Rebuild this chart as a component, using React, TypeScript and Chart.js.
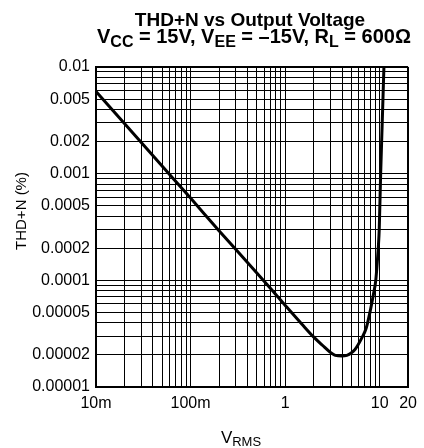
import React, { useEffect, useRef } from "react";
import { Chart, registerables } from "chart.js";

Chart.register(...registerables);

// THD+N (%) measured against output voltage (VRMS)
const vrms = [
  0.01, 0.02, 0.05, 0.1, 0.2, 0.5, 1, 1.5, 2, 2.5, 3, 3.4, 4, 4.5, 5, 5.5,
  6.5, 7.2, 8, 8.6, 9.1, 9.5, 9.7, 9.9, 10.25, 10.65, 11.1,
];
const thdn = [
  0.0059, 0.00295, 0.00118, 0.00059, 0.000292, 0.000118, 0.0000585, 0.000039,
  0.0000295, 0.0000245, 0.0000212, 0.0000198, 0.0000195, 0.0000198, 0.0000208,
  0.0000225, 0.000029, 0.0000355, 0.000053, 0.000074, 0.0001, 0.00016,
  0.00021, 0.0003, 0.001, 0.003, 0.01,
];

// Labelled ticks
const xLabelValues = [0.01, 0.1, 1, 10, 20];
const xLabelTexts = ["10m", "100m", "1", "10", "20"];
const yLabelValues = [
  0.01, 0.005, 0.002, 0.001, 0.0005, 0.0002, 0.0001, 0.00005, 0.00002, 0.00001,
];
const yLabelTexts = [
  "0.01", "0.005", "0.002", "0.001", "0.0005", "0.0002", "0.0001", "0.00005",
  "0.00002", "0.00001",
];

// Grid decades (each gets lines at 1..9 x decade)
const xDecades = [0.01, 0.1, 1];
const xExtraGrid = [10, 20];
const yDecades = [0.00001, 0.0001, 0.001];
const yExtraGrid = [0.01];

const X_MIN = 0.01;
const X_MAX = 20;
const Y_MIN = 0.00001;
const Y_MAX = 0.01;

const FONT = "'Liberation Sans', Arial, Helvetica, sans-serif";

function gridValues(decades: number[], extra: number[]) {
  const out: number[] = [];
  for (const d of decades) {
    for (let m = 1; m <= 9; m++) out.push(+(m * d).toPrecision(6));
  }
  return out.concat(extra);
}

function lookupLabel(v: number, values: number[], texts: string[]) {
  for (let i = 0; i < values.length; i++) {
    if (Math.abs(v - values[i]) / values[i] < 1e-6) return texts[i];
  }
  return "";
}

type Part = { t: string; sub?: boolean };

function drawRich(
  ctx: CanvasRenderingContext2D,
  parts: Part[],
  cx: number,
  baseline: number,
  size: number,
  subSize: number,
  subDrop: number,
  bold: boolean
) {
  const w = bold ? "bold " : "";
  let total = 0;
  for (const p of parts) {
    ctx.font = `${w}${p.sub ? subSize : size}px ${FONT}`;
    total += ctx.measureText(p.t).width;
  }
  let x = cx - total / 2;
  ctx.textAlign = "left";
  ctx.textBaseline = "alphabetic";
  for (const p of parts) {
    ctx.font = `${w}${p.sub ? subSize : size}px ${FONT}`;
    ctx.fillText(p.t, x, baseline + (p.sub ? subDrop : 0));
    x += ctx.measureText(p.t).width;
  }
}

const textPlugin = {
  id: "chartText",
  afterDraw(chart: any) {
    const ctx: CanvasRenderingContext2D = chart.ctx;
    ctx.save();
    ctx.fillStyle = "#000";
    drawRich(ctx, [{ t: "THD+N vs Output Voltage" }], 250, 26, 19, 15, 4, true);
    drawRich(
      ctx,
      [
        { t: "V" },
        { t: "CC", sub: true },
        { t: " = 15V, V" },
        { t: "EE", sub: true },
        { t: " = \u201315V, R" },
        { t: "L", sub: true },
        { t: " = 600\u03A9" },
      ],
      254,
      43,
      20,
      16,
      4,
      true
    );
    drawRich(
      ctx,
      [{ t: "V" }, { t: "RMS", sub: true }],
      241,
      443,
      17,
      13,
      3,
      false
    );
    ctx.translate(22, 211);
    ctx.rotate(-Math.PI / 2);
    ctx.font = `15px ${FONT}`;
    ctx.textAlign = "center";
    ctx.textBaseline = "middle";
    ctx.fillText("THD+N (%)", 0, 0);
    ctx.restore();
  },
};

export default function App() {
  const ref = useRef<HTMLCanvasElement | null>(null);

  useEffect(() => {
    if (!ref.current) return;
    const xGrid = gridValues(xDecades, xExtraGrid);
    const yGrid = gridValues(yDecades, yExtraGrid);

    const edgeWidth = (min: number, max: number) => (c: any) => {
      const v = c.tick ? c.tick.value : NaN;
      return Math.abs(v - min) / min < 1e-6 || Math.abs(v - max) / max < 1e-6
        ? 2
        : 1;
    };

    const chart = new Chart(ref.current, {
      type: "line",
      data: {
        datasets: [
          {
            data: vrms.map((x, i) => ({ x, y: thdn[i] })),
            borderColor: "#000",
            borderWidth: 3,
            pointRadius: 0,
            fill: false,
            cubicInterpolationMode: "monotone",
          },
        ],
      },
      options: {
        responsive: false,
        animation: false,
        devicePixelRatio: 1,
        layout: { padding: { top: 67, right: 9, bottom: 31, left: 0 } },
        plugins: {
          legend: { display: false },
          title: { display: false },
          tooltip: { enabled: false },
        },
        scales: {
          x: {
            type: "logarithmic",
            min: X_MIN,
            max: X_MAX,
            afterBuildTicks: (s: any) => {
              s.ticks = xGrid.map((value) => ({ value }));
            },
            afterFit: (s: any) => {
              s.height = 30;
            },
            grid: {
              color: "#000",
              lineWidth: edgeWidth(X_MIN, X_MAX),
              drawTicks: false,
            },
            border: { display: true, color: "#000", width: 2 },
            ticks: {
              autoSkip: false,
              maxRotation: 0,
              minRotation: 0,
              padding: 7,
              color: "#000",
              font: { family: FONT, size: 16 },
              callback: (_v: any, i: number, ticks: any[]) =>
                lookupLabel(ticks[i].value, xLabelValues, xLabelTexts),
            },
          },
          y: {
            type: "logarithmic",
            min: Y_MIN,
            max: Y_MAX,
            afterBuildTicks: (s: any) => {
              s.ticks = yGrid.map((value) => ({ value }));
            },
            afterFit: (s: any) => {
              s.width = 96;
            },
            grid: {
              color: "#000",
              lineWidth: edgeWidth(Y_MIN, Y_MAX),
              drawTicks: false,
            },
            border: { display: true, color: "#000", width: 2 },
            ticks: {
              autoSkip: false,
              padding: 6,
              color: "#000",
              font: { family: FONT, size: 16 },
              callback: (_v: any, i: number, ticks: any[]) =>
                lookupLabel(ticks[i].value, yLabelValues, yLabelTexts),
            },
          },
        },
      },
      plugins: [textPlugin],
    } as any);

    return () => chart.destroy();
  }, []);

  return (
    <div
      style={{
        position: "fixed",
        left: 0,
        top: 0,
        width: 424,
        height: 448,
        background: "#fff",
      }}
    >
      <canvas ref={ref} width={424} height={448} style={{ display: "block" }} />
    </div>
  );
}
